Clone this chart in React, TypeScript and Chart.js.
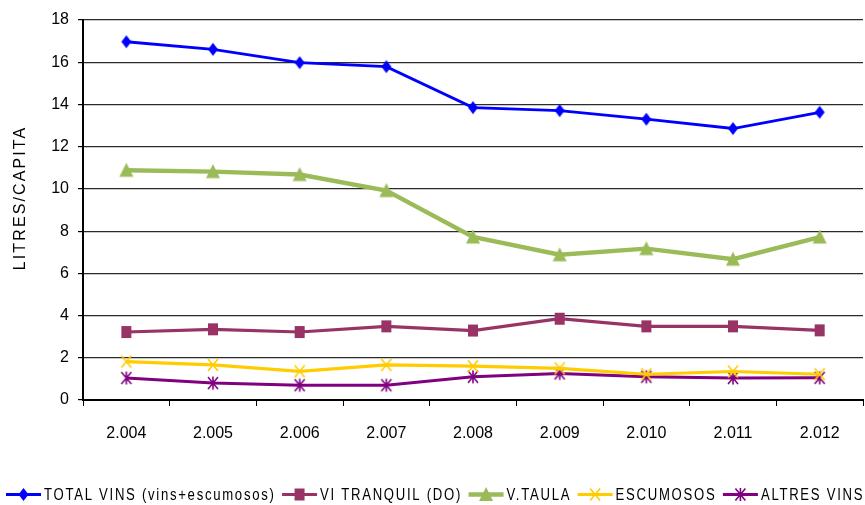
import React, { useEffect, useRef } from "react";
import { Chart, registerables } from "chart.js";

Chart.register(...registerables);

const categories = ["2.004", "2.005", "2.006", "2.007", "2.008", "2.009", "2.010", "2.011", "2.012"];
const totalVins = [16.97, 16.61, 15.98, 15.79, 13.85, 13.71, 13.3, 12.86, 13.63];
const viTranquil = [3.22, 3.35, 3.22, 3.49, 3.29, 3.85, 3.49, 3.49, 3.3];
const vTaula = [10.88, 10.82, 10.68, 9.92, 7.72, 6.88, 7.17, 6.67, 7.72];
const escumosos = [1.82, 1.66, 1.36, 1.66, 1.6, 1.5, 1.22, 1.35, 1.22];
const altresVins = [1.04, 0.8, 0.7, 0.7, 1.1, 1.26, 1.1, 1.04, 1.05];
const yTicks = [0, 2, 4, 6, 8, 10, 12, 14, 16, 18];
const yTitle = "LITRES/CAPITA";
const seriesNames = ["TOTAL VINS (vins+escumosos)", "VI TRANQUIL (DO)", "V.TAULA", "ESCUMOSOS", "ALTRES VINS"];
const seriesColors = ["#0000FF", "#993366", "#9BBB59", "#FFCC00", "#800080"];
const seriesMarkers = ["diamond", "square", "triangle", "x", "asterisk"];
const seriesWidths = [2.8, 3.2, 4.4, 3.2, 3];

const FONT = '"Liberation Sans", Arial, sans-serif';

function drawMarker(ctx: CanvasRenderingContext2D, kind: string, cx: number, cy: number, color: string) {
  ctx.save();
  ctx.fillStyle = color;
  ctx.strokeStyle = color;
  ctx.lineWidth = 1.6;
  ctx.beginPath();
  if (kind === "diamond") {
    ctx.moveTo(cx, cy - 6.5);
    ctx.lineTo(cx + 5, cy);
    ctx.lineTo(cx, cy + 6.5);
    ctx.lineTo(cx - 5, cy);
    ctx.closePath();
    ctx.fill();
  } else if (kind === "square") {
    ctx.rect(cx - 5, cy - 6, 10, 12);
    ctx.fill();
  } else if (kind === "triangle") {
    ctx.moveTo(cx, cy - 7.5);
    ctx.lineTo(cx + 7, cy + 6.5);
    ctx.lineTo(cx - 7, cy + 6.5);
    ctx.closePath();
    ctx.fill();
  } else if (kind === "x") {
    ctx.moveTo(cx - 5, cy - 6);
    ctx.lineTo(cx + 5, cy + 6);
    ctx.moveTo(cx + 5, cy - 6);
    ctx.lineTo(cx - 5, cy + 6);
    ctx.stroke();
  } else if (kind === "asterisk") {
    ctx.moveTo(cx - 5, cy - 6);
    ctx.lineTo(cx + 5, cy + 6);
    ctx.moveTo(cx + 5, cy - 6);
    ctx.lineTo(cx - 5, cy + 6);
    ctx.moveTo(cx, cy - 6.5);
    ctx.lineTo(cx, cy + 6.5);
    ctx.stroke();
  }
  ctx.restore();
}

function markerCanvas(kind: string, color: string) {
  const c = document.createElement("canvas");
  c.width = 18;
  c.height = 18;
  const ctx = c.getContext("2d")!;
  drawMarker(ctx, kind, 9, 9, color);
  return c;
}

const overlayPlugin = {
  id: "overlay",
  afterDraw(chart: any) {
    const ctx: CanvasRenderingContext2D = chart.ctx;
    const ca = chart.chartArea;
    // Y axis title
    ctx.save();
    ctx.font = `16px ${FONT}`;
    (ctx as any).letterSpacing = "2.1px";
    ctx.fillStyle = "#000";
    ctx.textAlign = "center";
    ctx.textBaseline = "middle";
    ctx.translate(21, (ca.top + ca.bottom) / 2 - 12);
    ctx.rotate(-Math.PI / 2);
    ctx.fillText(yTitle, 0, 0);
    ctx.restore();

    // Legend (narrow lettering emulated with a horizontal squeeze)
    const sx = 0.82;
    ctx.save();
    ctx.font = `16px ${FONT}`;
    (ctx as any).letterSpacing = "2.1px";
    ctx.textAlign = "left";
    ctx.textBaseline = "middle";
    const y = 494.5;
    let x = 6;
    chart.data.datasets.forEach((ds: any, i: number) => {
      ctx.save();
      ctx.strokeStyle = seriesColors[i];
      ctx.lineWidth = seriesWidths[i];
      ctx.beginPath();
      ctx.moveTo(x, y);
      ctx.lineTo(x + 35, y);
      ctx.stroke();
      ctx.restore();
      drawMarker(ctx, seriesMarkers[i], x + 17.5, y, seriesColors[i]);
      x += 38;
      ctx.save();
      ctx.translate(x, y + 1);
      ctx.scale(sx, 1);
      ctx.fillStyle = "#000";
      ctx.fillText(ds.label, 0, 0);
      ctx.restore();
      x += ctx.measureText(ds.label).width * sx + 6.5;
    });
    ctx.restore();
  },
};

export default function App() {
  const ref = useRef<HTMLCanvasElement>(null);
  useEffect(() => {
    const series = [totalVins, viTranquil, vTaula, escumosos, altresVins];
    const chart = new Chart(ref.current!, {
      type: "line",
      data: {
        labels: categories,
        datasets: series.map((d, i) => ({
          label: seriesNames[i],
          data: d,
          borderColor: seriesColors[i],
          backgroundColor: seriesColors[i],
          borderWidth: seriesWidths[i],
          pointStyle: markerCanvas(seriesMarkers[i], seriesColors[i]) as any,
          pointRadius: 0.5,
          pointHoverRadius: 0.5,
          pointBorderWidth: 0,
          tension: 0,
          fill: false,
        })),
      },
      options: {
        animation: false,
        responsive: true,
        maintainAspectRatio: false,
        layout: { padding: { top: 20, right: 2, bottom: 58, left: 0 } },
        plugins: { legend: { display: false }, tooltip: { enabled: false } },
        scales: {
          x: {
            offset: true,
            grid: { offset: true, drawOnChartArea: false, tickLength: 6, color: "#000", lineWidth: 1 },
            border: { color: "#000", width: 2 },
            ticks: { color: "#000", padding: 18, font: { family: FONT, size: 16 }, maxRotation: 0 },
            afterFit: (s: any) => {
              s.height = 47;
              s.paddingLeft = 0;
              s.paddingRight = 0;
            },
          },
          y: {
            min: 0,
            max: 18,
            afterBuildTicks: (s: any) => {
              s.ticks = yTicks.map((v) => ({ value: v }));
            },
            ticks: { color: "#000", padding: 9, font: { family: FONT, size: 16 } },
            grid: { color: "#2b2b2b", lineWidth: 1.2, tickLength: 5, tickColor: "#000" },
            border: { color: "#000", width: 2 },
            afterFit: (s: any) => {
              s.width = 83;
            },
          },
        },
      },
      plugins: [overlayPlugin],
    });
    return () => chart.destroy();
  }, []);
  return (
    <div style={{ position: "fixed", left: 0, top: 0, width: 865, height: 505, background: "#fff" }}>
      <canvas ref={ref} />
    </div>
  );
}
